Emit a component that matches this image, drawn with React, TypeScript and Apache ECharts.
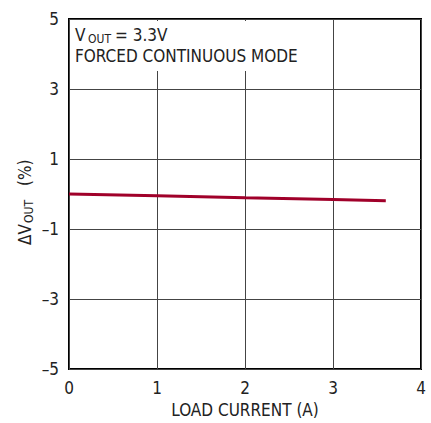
import React, { useEffect, useRef } from "react";
import * as echarts from "echarts";

const loadCurrent = [0, 1, 2, 3, 3.6];
const deltaVout = [0.0, -0.05, -0.11, -0.16, -0.19];
const xTicks = [0, 1, 2, 3, 4];
const yTicks = [-5, -3, -1, 1, 3, 5];

const FONT = "'Liberation Sans Narrow', 'DejaVu Sans Condensed', sans-serif";
const TXT = "#222";

export default function App() {
  const ref = useRef<HTMLDivElement>(null);
  useEffect(() => {
    if (!ref.current) return;
    const chart = echarts.init(ref.current, null, { renderer: "svg" });
    const t = (text: string, x: number, y: number, size: number, rot = 0) => ({
      type: "text",
      z: 6,
      x,
      y,
      rotation: rot,
      style: { text, font: `${size}px ${FONT}`, fill: TXT, align: "left", verticalAlign: "middle" },
    });
    chart.setOption({
      animation: false,
      backgroundColor: "#fff",
      grid: { left: 69, right: 10, top: 19, bottom: 53, show: true, borderColor: "#000", borderWidth: 2, backgroundColor: "transparent" },
      xAxis: {
        type: "value",
        min: xTicks[0],
        max: xTicks[xTicks.length - 1],
        interval: 1,
        name: "LOAD CURRENT (A)",
        nameLocation: "middle",
        nameGap: 32,
        nameTextStyle: { fontFamily: FONT, fontSize: 17, color: TXT },
        axisLine: { show: false },
        axisTick: { show: false },
        axisLabel: { fontFamily: FONT, fontSize: 17, color: TXT, margin: 10 },
        splitLine: { show: true, lineStyle: { color: "#444", width: 1 } },
      },
      yAxis: {
        type: "value",
        min: yTicks[0],
        max: yTicks[yTicks.length - 1],
        interval: 2,
        axisLine: { show: false },
        axisTick: { show: false },
        axisLabel: {
          fontFamily: FONT,
          fontSize: 17,
          color: TXT,
          margin: 10,
          formatter: (v: number) => (v < 0 ? "\u2013" + Math.abs(v) : String(v)),
        },
        splitLine: { show: true, lineStyle: { color: "#444", width: 1 } },
      },
      graphic: [
        { type: "rect", z: 5, shape: { x: 70, y: 21, width: 235, height: 50 }, style: { fill: "#fff" } },
        t("V", 75, 35, 17),
        t("OUT", 88, 39, 12),
        t("= 3.3V", 115, 35, 17),
        t("FORCED CONTINUOUS MODE", 75, 56, 17),
        t("\u0394V", 25, 245, 17, Math.PI / 2),
        t("OUT", 29, 223, 12, Math.PI / 2),
        t("(%)", 25, 186, 17, Math.PI / 2),
      ],
      series: [
        {
          type: "line",
          data: loadCurrent.map((x, i) => [x, deltaVout[i]]),
          showSymbol: false,
          lineStyle: { color: "#a0002a", width: 3 },
          z: 4,
        },
      ],
    });
    return () => chart.dispose();
  }, []);
  return <div ref={ref} style={{ position: "absolute", left: 0, top: 0, width: 431, height: 423 }} />;
}
